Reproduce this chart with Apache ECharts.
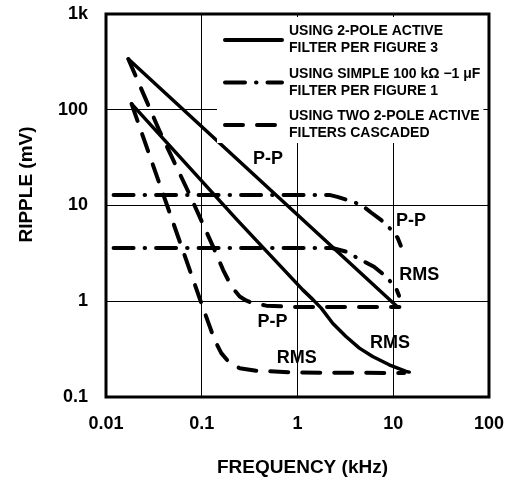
<!DOCTYPE html>
<html><head><meta charset="utf-8">
<script src="https://cdn.jsdelivr.net/npm/echarts@6/dist/echarts.min.js"></script>
<style>html,body{margin:0;padding:0;background:#fff}#c{width:507px;height:482px}</style>
</head><body><div id="c"></div>
<script>
// ---- tick labels ----
const xTickLabels = ['0.01', '0.1', '1', '10', '100'];
const yTickLabels = ['0.1', '1', '10', '100', '1k'];

// ---- legend ----
const seriesNames = ['2-pole active', 'simple RC', 'two 2-pole cascaded'];
const legendText = [
  'USING 2-POLE ACTIVE\nFILTER PER FIGURE 3',
  'USING SIMPLE 100 k\u03A9 \u22121 \u03BCF\nFILTER PER FIGURE 1',
  'USING TWO 2-POLE ACTIVE\nFILTERS CASCADED'
];

// ---- series values [frequency kHz, ripple mV] ----
const activePP = [[0.0171, 339], [11.1, 0.87]];
const activeRMS = [[0.0185, 115], [0.23, 7.2], [1.135, 1.315], [1.45, 1.04], [1.77, 0.847], [2.33, 0.59],
  [3.21, 0.428], [4.43, 0.324], [6.09, 0.265], [9.08, 0.217], [13.6, 0.185], [14.7, 0.182]];
const simplePP = [[0.012, 12.9], [2.15, 12.9], [2.61, 12.3], [3.5, 11.2], [4.6, 10.2], [5.86, 8.45],
  [7.45, 7.08], [9.5, 5.6], [11.1, 4.6], [12.0, 3.8]];
const simpleRMS = [[0.012, 3.6], [2.3, 3.6], [3.2, 3.3], [4.6, 2.7], [6.3, 2.29], [8.05, 1.88],
  [9.6, 1.56], [10.7, 1.37], [11.5, 1.14]];
const cascadePP = [[0.0171, 339], [0.0365, 59], [0.075, 12.9], [0.136, 3.44], [0.167, 2.13], [0.196, 1.55],
  [0.22, 1.3], [0.249, 1.12], [0.29, 1.02], [0.342, 0.955], [0.472, 0.9], [1.0, 0.87], [11.6, 0.87]];
const cascadeRMS = [[0.0185, 115], [0.099, 0.955], [0.12, 0.56], [0.136, 0.395], [0.16, 0.287], [0.196, 0.226],
  [0.249, 0.2], [0.37, 0.188], [1.0, 0.18], [13, 0.178]];

// ---- curve annotations ----
const noteText = ['P-P', 'P-P', 'RMS', 'P-P', 'RMS', 'RMS'];
const noteX = [0.491, 15.3, 18.7, 0.549, 9.25, 0.984];
const noteY = [30.4, 6.86, 1.89, 0.6, 0.366, 0.257];

const FONT = '"Liberation Sans", Arial, sans-serif';

const solidStyle = { color: '#000', width: 3.5, type: 'solid', cap: 'round', join: 'round' };
const dashDotStyle = { color: '#000', width: 4, type: [20, 11, 0.5, 11], cap: 'round', join: 'round' };
const dashStyle = { color: '#000', width: 4, type: [18, 14], cap: 'round', join: 'round' };

function lineSeries(name, data, style) {
  return {
    name: name, type: 'line', data: data, symbol: 'none', showSymbol: false,
    smooth: false, lineStyle: style, itemStyle: { color: '#000' },
    silent: true, animation: false
  };
}

const chart = echarts.init(document.getElementById('c'), null, { renderer: 'canvas' });
chart.setOption({
  backgroundColor: '#fff',
  animation: false,
  grid: { left: 106, right: 17, top: 14, bottom: 85, show: true, borderColor: '#000', borderWidth: 3, backgroundColor: 'transparent' },
  xAxis: {
    type: 'log', logBase: 10, min: 0.01, max: 100,
    axisLine: { show: false }, axisTick: { show: false },
    splitLine: { show: true, lineStyle: { color: '#000', width: 1 } },
    axisLabel: {
      color: '#000', fontFamily: FONT, fontWeight: 'bold', fontSize: 18, margin: 18,
      formatter: v => xTickLabels[Math.round(Math.log10(v)) + 2]
    },
    name: 'FREQUENCY (kHz)', nameLocation: 'middle', nameGap: 61,
    nameTextStyle: { color: '#000', fontFamily: FONT, fontWeight: 'bold', fontSize: 19, padding: [0, 0, 0, 10] }
  },
  yAxis: {
    type: 'log', logBase: 10, min: 0.1, max: 1000,
    axisLine: { show: false }, axisTick: { show: false },
    splitLine: { show: true, lineStyle: { color: '#000', width: 1 } },
    axisLabel: {
      color: '#000', fontFamily: FONT, fontWeight: 'bold', fontSize: 18, margin: 18,
      formatter: v => yTickLabels[Math.round(Math.log10(v)) + 1]
    },
    name: 'RIPPLE (mV)', nameLocation: 'middle', nameGap: 70,
    nameTextStyle: { color: '#000', fontFamily: FONT, fontWeight: 'bold', fontSize: 19, padding: [0, 0, 0, 42] }
  },
  legend: {
    data: seriesNames, orient: 'vertical', left: 217, top: 17,
    padding: [6, 3, 1, 6], itemGap: 8.5, itemWidth: 57, itemHeight: 2,
    backgroundColor: '#fff', borderWidth: 0, selectedMode: false,
    itemStyle: { color: 'rgba(0,0,0,0)', borderColor: 'rgba(0,0,0,0)', borderWidth: 0, opacity: 0 },
    lineStyle: { width: 4 },
    formatter: name => legendText[seriesNames.indexOf(name)],
    textStyle: { color: '#000', fontFamily: FONT, fontWeight: 'bold', fontSize: 14, lineHeight: 17, padding: [0, 0, 0, 2] }
  },
  series: [
    lineSeries(seriesNames[0], activePP, solidStyle),
    lineSeries(seriesNames[0], activeRMS, solidStyle),
    lineSeries(seriesNames[1], simplePP, dashDotStyle),
    lineSeries(seriesNames[1], simpleRMS, dashDotStyle),
    lineSeries(seriesNames[2], cascadePP, dashStyle),
    lineSeries(seriesNames[2], cascadeRMS, dashStyle),
    {
      type: 'scatter', name: 'notes', symbolSize: 0, silent: true, animation: false,
      itemStyle: { color: '#000' },
      data: noteText.map((t, i) => ({ name: t, value: [noteX[i], noteY[i]] })),
      label: {
        show: true, position: 'inside', formatter: '{b}', color: '#000', opacity: 1,
        textBorderWidth: 0, textBorderColor: 'rgba(0,0,0,0)',
        fontFamily: FONT, fontWeight: 'bold', fontSize: 18
      }
    }
  ]
});
</script></body></html>
